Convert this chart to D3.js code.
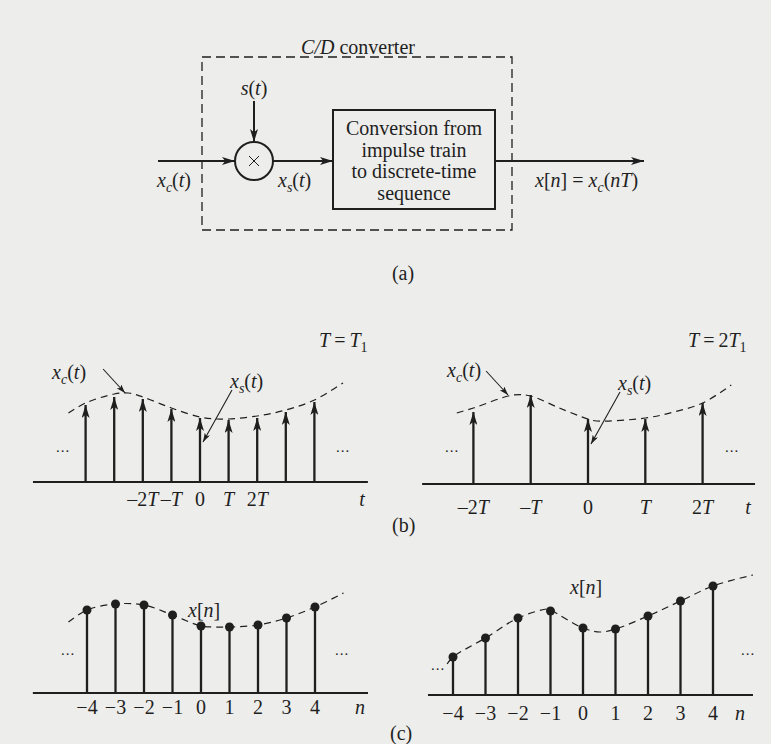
<!DOCTYPE html>
<html>
<head>
<meta charset="utf-8">
<script src="https://cdn.jsdelivr.net/npm/d3@7"></script>
<style>
  body { margin: 0; background: #ededeb; }
  text { font-family: "Liberation Serif", "Times New Roman", Tinos, "DejaVu Serif", "Noto Serif", serif; fill: #1f1f1f; }
</style>
</head>
<body>
<svg id="fig" width="771" height="744"></svg>
<script>
// ---- data (heights in px-like units above each axis) ----
// sample index n
const nIdx = [-4, -3, -2, -1, 0, 1, 2, 3, 4];

// (b) left, T = T1 : impulse areas x_c(nT1)
const xsLeft = [77, 85, 83, 73, 64, 62, 64, 70, 80];
// dashed x_c(t) in panel (b) left, t in units of T1
const xcLeftT = [-4.6, -4, -3, -2.5, -2, -1, 0, 0.6, 1, 2, 3, 4, 5];
const xcLeftV = [69, 79, 88, 89, 85, 74, 65, 63, 63, 66, 72, 82, 99];

// (b) right, T = 2T1 : impulses at t = -4T1 ... 4T1
const sRightT = [-4, -2, 0, 2, 4];
const xsRight = [72, 89, 65, 65, 81];
const xcRightT = [-4.58, -4, -2.6, -2, -1, 0, 0.3, 2, 3, 4, 5];
const xcRightV = [71, 76, 89, 88, 76, 65, 63, 66, 72, 81, 99];

// (c) left : x[n] for T = T1
const xnLeft = [83, 89, 88, 78, 67, 66, 68, 75, 86];
const envLeftN = [-4.65, -4, -3, -2, -1, 0, 0.5, 1, 2, 3, 4, 5];
const envLeftV = [71, 83, 89, 88, 78, 67, 66, 66, 68, 75, 86, 100];

// (c) right : x[n] for T = 2T1
const xnRight = [38, 57, 77, 84, 67, 66, 79, 94, 109];
const envRightN = [-4.18, -4, -3, -2, -1.1, -1, 0, 0.52, 1, 2, 3, 4, 5.23];
const envRightV = [31, 38, 57, 77, 86, 85, 67, 63, 66, 79, 94, 109, 120];

// tick labels
const tTicksLeft = [-2, -1, 0, 1, 2];
const tTicksRight = [-4, -2, 0, 2, 4];
const tTickText = ["\u20132*T*", "\u2013*T*", "0", "*T*", "2*T*"];
const nTickText = ["\u22124", "\u22123", "\u22122", "\u22121", "0", "1", "2", "3", "4"];

const ink = "#1f1f1f";
const svg = d3.select("#fig");

// arrowheads
const defs = svg.append("defs");
function marker(id, w, h) {
  defs.append("marker")
    .attr("id", id)
    .attr("viewBox", `0 0 ${w} ${h}`)
    .attr("refX", w).attr("refY", h / 2)
    .attr("markerWidth", w).attr("markerHeight", h)
    .attr("markerUnits", "userSpaceOnUse")
    .attr("orient", "auto")
    .append("path")
    .attr("d", `M0,0 L${w},${h / 2} L0,${h} L${w * 0.25},${h / 2} Z`)
    .attr("fill", ink);
}
marker("arr", 13, 8);
marker("arrS", 9, 6);

// text with *italic* parts and _x subscripts
function rich(g, x, y, src, size, anchor) {
  const t = g.append("text")
    .attr("x", x).attr("y", y)
    .attr("font-size", size || 20)
    .attr("text-anchor", anchor || "start");
  let it = false;
  const segs = [];
  for (let i = 0; i < src.length; i++) {
    const ch = src[i];
    if (ch === "*") { it = !it; continue; }
    if (ch === "_") { segs.push({ s: src[++i], it: it, sub: true }); continue; }
    const last = segs[segs.length - 1];
    if (last && last.it === it && !last.sub) last.s += ch;
    else segs.push({ s: ch, it: it, sub: false });
  }
  let down = false;
  segs.forEach(sg => {
    const ts = t.append("tspan").text(sg.s)
      .attr("font-style", sg.it ? "italic" : "normal");
    if (sg.sub) {
      ts.attr("font-size", "0.7em");
      if (!down) { ts.attr("dy", 5); down = true; }
    } else if (down) {
      ts.attr("dy", -5); down = false;
    }
  });
  return t;
}

function dots(g, x, y) {
  g.append("text").attr("x", x).attr("y", y + 2)
    .attr("font-size", 15).attr("text-anchor", "middle")
    .attr("letter-spacing", 1).text("...");
}

// ---------------- (a) block diagram ----------------
const ga = svg.append("g").attr("stroke", ink).attr("fill", "none");
const yLine = 161;

ga.append("rect")
  .attr("x", 202).attr("y", 57).attr("width", 310).attr("height", 173)
  .attr("stroke-width", 1.3).attr("stroke-dasharray", "9,5");

ga.append("line").attr("x1", 158).attr("y1", yLine).attr("x2", 235).attr("y2", yLine)
  .attr("stroke-width", 2).attr("marker-end", "url(#arr)");
ga.append("line").attr("x1", 254).attr("y1", 101).attr("x2", 254).attr("y2", 142)
  .attr("stroke-width", 2).attr("marker-end", "url(#arr)");
ga.append("circle").attr("cx", 254).attr("cy", yLine).attr("r", 19).attr("stroke-width", 2);
ga.append("path").attr("d", `M249,${yLine - 5} L259,${yLine + 5} M259,${yLine - 5} L249,${yLine + 5}`)
  .attr("stroke-width", 1);
ga.append("line").attr("x1", 273).attr("y1", yLine).attr("x2", 333).attr("y2", yLine)
  .attr("stroke-width", 2).attr("marker-end", "url(#arr)");
ga.append("rect").attr("x", 333).attr("y", 110).attr("width", 162).attr("height", 99)
  .attr("stroke-width", 2);
ga.append("line").attr("x1", 495).attr("y1", yLine).attr("x2", 644).attr("y2", yLine)
  .attr("stroke-width", 2).attr("marker-end", "url(#arr)");

const gt = svg.append("g");
rich(gt, 358, 54, "*C/D* converter", 20, "middle");
rich(gt, 254, 95, "*s*(*t*)", 20, "middle");
rich(gt, 157, 187, "*x_c*(*t*)", 20);
rich(gt, 278, 187, "*x_s*(*t*)", 20);
["Conversion from", "impulse train", "to discrete-time", "sequence"].forEach((s, i) => {
  gt.append("text").attr("x", 414).attr("y", 135 + i * 21.7)
    .attr("font-size", 20).attr("text-anchor", "middle").text(s);
});
rich(gt, 535, 187, "*x*[*n*] = *x_c*(*nT*)", 20);
rich(gt, 403, 280, "(a)", 20, "middle");

// ---------------- (b) impulse trains ----------------
function impulsePanel(cfg) {
  const g = svg.append("g");
  const x = d3.scaleLinear().domain([0, 1]).range([cfg.cx, cfg.cx + cfg.unit]);
  const y = d3.scaleLinear().domain([0, 100]).range([cfg.axisY, cfg.axisY - 100]);

  g.append("line")
    .attr("x1", x(cfg.ext[0])).attr("x2", x(cfg.ext[1]))
    .attr("y1", y(0)).attr("y2", y(0))
    .attr("stroke", ink).attr("stroke-width", 1.8);

  const env = cfg.envT.map((t, i) => [t, cfg.envV[i]]);
  g.append("path").datum(env)
    .attr("d", d3.line().x(d => x(d[0])).y(d => y(d[1])).curve(d3.curveCatmullRom))
    .attr("fill", "none").attr("stroke", ink)
    .attr("stroke-width", 1.2).attr("stroke-dasharray", "7,5");

  g.selectAll("line.stem")
    .data(cfg.sT.map((t, i) => [t, cfg.sV[i]]))
    .join("line").attr("class", "stem")
    .attr("x1", d => x(d[0])).attr("x2", d => x(d[0]))
    .attr("y1", y(0)).attr("y2", d => y(d[1]))
    .attr("stroke", ink).attr("stroke-width", 2.3)
    .attr("marker-end", "url(#arr)");

  cfg.ticks.forEach((t, i) => {
    rich(g, x(t), cfg.labelY, tTickText[i], 20, "middle");
  });
  rich(g, cfg.tX, cfg.labelY, "*t*", 20, "middle");
  dots(g, cfg.dots[0], 450);
  dots(g, cfg.dots[1], 450);

  // pointer annotations
  const pc = [x(cfg.xcAt), y(cfg.xcH)];
  g.append("line")
    .attr("x1", pc[0] - 22).attr("y1", pc[1] - 24).attr("x2", pc[0]).attr("y2", pc[1])
    .attr("stroke", ink).attr("stroke-width", 1.1).attr("marker-end", "url(#arrS)");
  rich(g, pc[0] - cfg.xcLab[0], pc[1] - cfg.xcLab[1], "*x_c*(*t*)", 20);

  const ps = [x(0) + 3, y(40)];
  g.append("line")
    .attr("x1", ps[0] + 29).attr("y1", ps[1] - 52).attr("x2", ps[0]).attr("y2", ps[1])
    .attr("stroke", ink).attr("stroke-width", 1.1).attr("marker-end", "url(#arrS)");
  rich(g, ps[0] + 27, ps[1] - 54, "*x_s*(*t*)", 20);
  return g;
}

impulsePanel({
  cx: 200, unit: 28.6, axisY: 482, ext: [-5.84, 5.87],
  envT: xcLeftT, envV: xcLeftV, sT: nIdx, sV: xsLeft,
  ticks: tTicksLeft, labelY: 506, tX: 362, dots: [63, 343],
  xcAt: -2.62, xcH: 89, xcLab: [73, 14]
});
impulsePanel({
  cx: 588, unit: 28.65, axisY: 484, ext: [-5.79, 5.83],
  envT: xcRightT, envV: xcRightV, sT: sRightT, sV: xsRight,
  ticks: tTicksRight, labelY: 514, tX: 748, dots: [452, 732],
  xcAt: -2.79, xcH: 89, xcLab: [61, 18]
});
rich(svg, 319, 347, "*T*\u2009=\u2009*T*_1", 20);
rich(svg, 688, 347, "*T*\u2009=\u20092*T*_1", 20);
rich(svg, 392, 532, "(b)", 20);

// ---------------- (c) sequences ----------------
function seqPanel(cfg) {
  const g = svg.append("g");
  const x = d3.scaleLinear().domain([0, 1]).range([cfg.cx, cfg.cx + cfg.unit]);
  const y = d3.scaleLinear().domain([0, 100]).range([cfg.axisY, cfg.axisY - 100]);

  g.append("line")
    .attr("x1", x(cfg.ext[0])).attr("x2", x(cfg.ext[1]))
    .attr("y1", y(0)).attr("y2", y(0))
    .attr("stroke", ink).attr("stroke-width", 1.8);

  const env = cfg.envN.map((n, i) => [n, cfg.envV[i]]);
  g.append("path").datum(env)
    .attr("d", d3.line().x(d => x(d[0])).y(d => y(d[1])).curve(d3.curveCatmullRom))
    .attr("fill", "none").attr("stroke", ink)
    .attr("stroke-width", 1.2).attr("stroke-dasharray", "7,5");

  const pts = nIdx.map((n, i) => [n, cfg.vals[i]]);
  g.selectAll("line.stem").data(pts).join("line").attr("class", "stem")
    .attr("x1", d => x(d[0])).attr("x2", d => x(d[0]))
    .attr("y1", y(0)).attr("y2", d => y(d[1]))
    .attr("stroke", ink).attr("stroke-width", 2.3);
  g.selectAll("circle").data(pts).join("circle")
    .attr("cx", d => x(d[0])).attr("cy", d => y(d[1])).attr("r", 4.5)
    .attr("fill", ink);

  nIdx.forEach((n, i) => {
    g.append("text").attr("x", x(n)).attr("y", cfg.labelY)
      .attr("font-size", 20).attr("text-anchor", "middle").text(nTickText[i]);
  });
  rich(g, cfg.nX, cfg.labelY, "*n*", 20, "middle");
  rich(g, cfg.lab[0], cfg.lab[1], "*x*[*n*]", 20);
  dots(g, cfg.dots[0][0], cfg.dots[0][1]);
  dots(g, cfg.dots[1][0], cfg.dots[1][1]);
  return g;
}

seqPanel({
  cx: 201, unit: 28.5, axisY: 693, ext: [-5.9, 5.86],
  envN: envLeftN, envV: envLeftV, vals: xnLeft,
  labelY: 714, nX: 360, lab: [188, 617], dots: [[68, 653], [342, 653]]
});
seqPanel({
  cx: 583, unit: 32.5, axisY: 695, ext: [-4.77, 5.23],
  envN: envRightN, envV: envRightV, vals: xnRight,
  labelY: 720, nX: 740, lab: [570, 594], dots: [[438, 668], [748, 653]]
});
rich(svg, 390, 740, "(c)", 20);
</script>
</body>
</html>
